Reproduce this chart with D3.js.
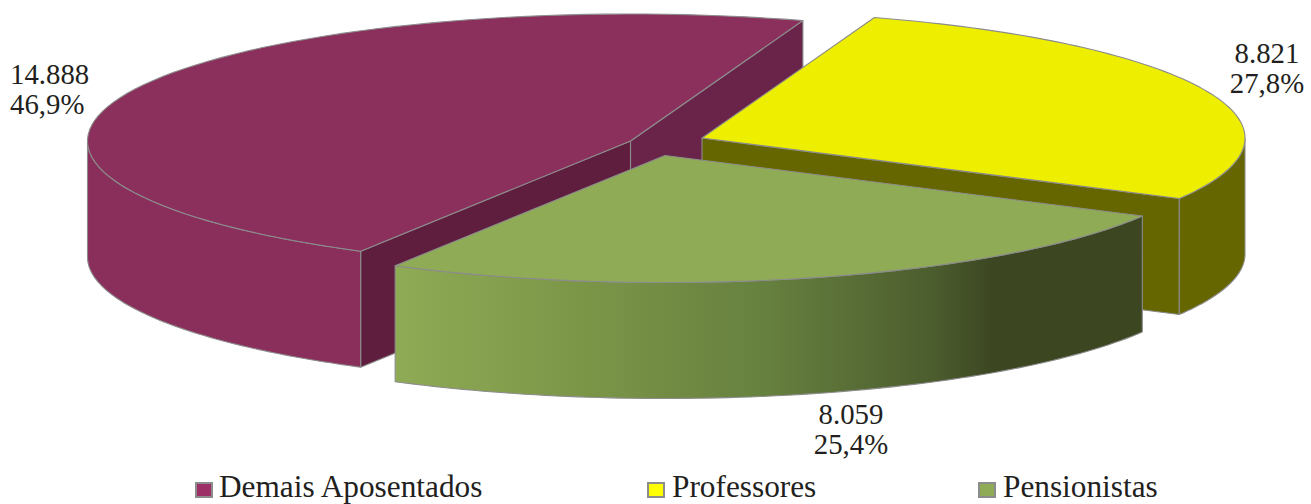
<!DOCTYPE html>
<html><head><meta charset="utf-8">
<script src="https://cdn.jsdelivr.net/npm/d3@7"></script>
<style>html,body{margin:0;padding:0;background:#fff;overflow:hidden}text{font-family:"Liberation Serif",serif;fill:#231f20}</style>
</head><body><svg id="c" width="1311" height="504"></svg>
<script>
const categories = ["Demais Aposentados","Professores","Pensionistas"];
const values = [14888,8821,8059];
const valueLabels = ["14.888","8.821","8.059"];
const percentLabels = ["46,9%","27,8%","25,4%"];
const topColors = ["#8b2f5c","#eeee00","#90ab55"];
const legendColors = ["#9b2f66","#ffff00","#90ab55"];
const outerColors = ["#8a2e5b","#666600","url(#g)"];
const startRadial = ["#5f1e3e","#666600","#3c4722"];
const endRadial = ["#6b2449","#666600","#3c4722"];
const centers = [[630.5,141],[702,138],[665,155.5]];
const labelPos = [[10,84,"start"],[1267,63,"middle"],[851,424,"middle"]];
const percentPos = [[10,114,"start"],[1267,93,"middle"],[851,454,"middle"]];
const legendX = [196,648,979];
const legendTextX = [219,672,1003];
const RX=543, RY=127, DEPTH=116, STROKE="#8c8c8c";
const svg=d3.select("#c");
const start=-150.2*Math.PI/180;
const arcs=d3.pie().sort(null).startAngle(start).endAngle(start+2*Math.PI)(values);
const sx=d3.scaleLinear().domain([-1,1]).range([-RX,RX]);
const sy=d3.scaleLinear().domain([-1,1]).range([-RY,RY]);
const defs=svg.append("defs");
const g=defs.append("linearGradient").attr("id","g").attr("gradientUnits","userSpaceOnUse").attr("x1",393).attr("x2",1142).attr("y1",0).attr("y2",0);
[[0,"#8fab55"],[.25,"#7c9648"],[.5,"#66803f"],[.72,"#4c5d2e"],[.8,"#3c4722"],[1,"#3c4722"]].forEach(s=>g.append("stop").attr("offset",s[0]).attr("stop-color",s[1]));
const pt=(c,a,dz=0)=>[c[0]+sx(Math.sin(a)),c[1]+sy(-Math.cos(a))+dz];
const samples=(a0,a1)=>d3.range(0,81).map(i=>a0+(a1-a0)*i/80);
const line=d3.line();
function poly(pts,fill,close=true){
  svg.append("path").attr("d",line(pts)+(close?"Z":"")).attr("fill",fill).attr("stroke",STROKE).attr("stroke-width",1.1).attr("stroke-linejoin","round");
}
arcs.forEach((d,i)=>{
  const c=centers[i];
  const a0=d.startAngle,a1=d.endAngle;
  if(i===0){
    poly([c,pt(c,a1),pt(c,a1,DEPTH),[c[0],c[1]+DEPTH]],endRadial[i]);
  }
  if(i<2){
    poly([c,pt(c,i===0?a0:a1),pt(c,i===0?a0:a1,DEPTH),[c[0],c[1]+DEPTH]],i===0?startRadial[i]:endRadial[i]);
  }
  const lo=Math.max(a0,Math.PI/2-(i===0?2*Math.PI:0)), hi=Math.min(a1,3*Math.PI/2-(i===0?2*Math.PI:0));
  if(hi>lo){
    const s=samples(lo,hi);
    poly(s.map(a=>pt(c,a)).concat(s.slice().reverse().map(a=>pt(c,a,DEPTH))),outerColors[i]);
  }
  poly([c].concat(samples(a0,a1).map(a=>pt(c,a))),topColors[i]);
});
const fs=28.8;
labelPos.forEach((p,i)=>{
  svg.append("text").attr("x",p[0]).attr("y",p[1]).attr("text-anchor",p[2]).attr("font-size",fs).text(valueLabels[i]);
  svg.append("text").attr("x",percentPos[i][0]).attr("y",percentPos[i][1]).attr("text-anchor",percentPos[i][2]).attr("font-size",fs).text(percentLabels[i]);
});
categories.forEach((n,i)=>{
  svg.append("rect").attr("x",legendX[i]).attr("y",483).attr("width",16).attr("height",14).attr("fill",legendColors[i]).attr("stroke","#8c8c8c").attr("stroke-width",2);
  svg.append("text").attr("x",legendTextX[i]).attr("y",497).attr("font-size",31.3).text(n);
});
</script></body></html>
